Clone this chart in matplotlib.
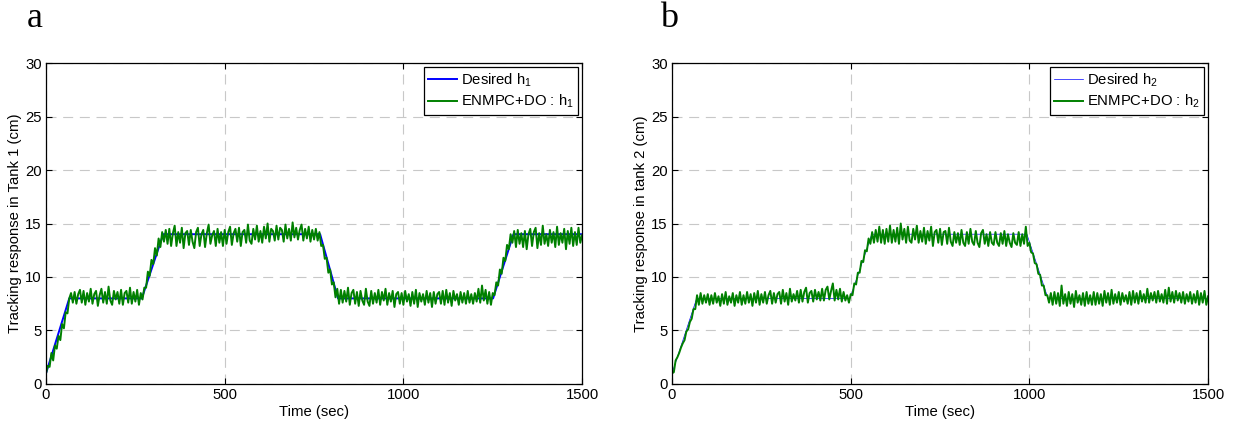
import numpy as np
import matplotlib
matplotlib.use("Agg")
import matplotlib.pyplot as plt

plt.rcParams['font.family'] = ['Liberation Sans', 'DejaVu Sans']
plt.rcParams['mathtext.fontset'] = 'custom'
plt.rcParams['mathtext.rm'] = 'Liberation Sans'
plt.rcParams['mathtext.it'] = 'Liberation Sans:italic'

# Time axis of the sampled responses (every 5 sec, 0..1500)
time = np.arange(0, 1505, 5)

# Desired set-point trajectories (breakpoints)
desired1_t = [0, 65, 268, 328, 767, 817, 1251, 1308, 1500]
desired1_h = [1, 8, 8, 14, 14, 8, 8, 14, 14]
desired2_t = [0, 69, 498, 559, 993, 1052, 1500]
desired2_h = [1, 8, 8, 14, 14, 8, 8]

# ENMPC+DO response in tank 1 (cm)
h1 = [
    1.0, 1.7, 1.6, 2.9, 2.2, 3.6, 3.3, 4.5, 4.1, 5.6, 5.2, 6.7, 6.6, 8.0, 8.5, 7.6, 8.6, 7.5, 8.4, 8.8,
    7.6, 8.7, 7.4, 8.5, 7.7, 8.9, 7.5, 8.4, 8.7, 7.3, 8.3, 8.9, 7.6, 8.6, 7.5, 9.1, 7.8, 7.4, 8.7, 7.9,
    8.6, 7.5, 8.8, 7.4, 8.5, 8.7, 7.6, 9.0, 7.5, 8.6, 7.7, 8.8, 7.4, 8.5, 7.9, 9.0, 9.0, 10.5, 10.1, 11.6,
    11.2, 12.7, 12.0, 13.6, 12.8, 14.2, 13.3, 14.4, 13.1, 14.5, 12.9, 14.1, 14.8, 12.9, 14.2, 13.2, 14.6, 12.7, 14.1, 14.3,
    13.0, 14.4, 13.3, 12.7, 14.2, 14.6, 12.9, 14.0, 14.4, 12.8, 14.1, 14.9, 13.1, 13.9, 14.3, 12.9, 14.5, 13.2, 14.2, 12.9,
    14.4, 13.1, 14.2, 14.7, 13.0, 14.1, 14.5, 13.3, 14.6, 12.9, 14.2, 14.4, 13.2, 14.9, 13.4, 13.1, 14.5, 13.5, 14.8, 13.3,
    14.3, 13.2, 14.7, 13.6, 15.0, 13.3, 14.5, 14.3, 13.4, 14.8, 13.5, 14.6, 14.4, 13.3, 14.9, 13.6, 14.5, 13.4, 15.1, 13.7,
    14.6, 13.5, 14.4, 14.9, 13.4, 14.5, 13.6, 14.7, 13.3, 14.4, 13.5, 14.5, 13.4, 14.2, 12.9, 13.0, 11.7, 11.8, 10.4, 10.7,
    9.3, 9.5, 8.1, 8.9, 7.5, 8.8, 7.6, 8.7, 7.7, 9.0, 7.4, 8.5, 8.8, 7.5, 8.6, 7.3, 8.7, 7.8, 7.4, 8.9,
    7.7, 7.3, 8.7, 7.5, 8.5, 7.6, 8.8, 7.4, 8.6, 7.8, 8.9, 7.4, 8.5, 7.7, 8.7, 7.2, 8.4, 8.6, 7.5, 8.5,
    7.4, 8.7, 7.7, 8.4, 7.3, 8.6, 7.5, 8.8, 7.2, 8.5, 7.7, 8.4, 7.4, 8.7, 7.6, 8.5, 7.2, 8.6, 7.5, 8.4,
    8.6, 7.5, 8.7, 7.4, 8.8, 7.6, 8.5, 7.3, 8.7, 7.8, 8.4, 7.4, 8.6, 7.6, 8.5, 7.5, 8.7, 7.6, 8.4, 7.5,
    8.5, 7.7, 8.9, 7.6, 9.2, 7.8, 8.8, 7.5, 8.6, 7.4, 8.5, 8.3, 9.5, 9.2, 10.7, 10.3, 11.8, 11.5, 13.0, 12.6,
    14.0, 13.2, 14.3, 12.8, 14.4, 13.1, 14.1, 12.8, 14.3, 12.6, 14.0, 14.5, 12.9, 14.2, 14.6, 12.7, 14.1, 13.0, 14.8, 13.1,
    14.0, 12.9, 14.4, 13.2, 14.2, 12.8, 14.7, 13.0, 14.1, 13.2, 14.5, 12.6, 14.3, 13.1, 14.6, 12.9, 14.2, 13.0, 14.6, 13.2,
    13.9,
]

# ENMPC+DO response in tank 2 (cm)
h2 = [
    1.0, 1.1, 2.2, 2.5, 2.9, 3.4, 3.8, 4.1, 4.9, 5.1, 5.8, 6.1, 7.0, 7.0, 8.3, 7.4, 8.5, 7.5, 8.3, 7.6,
    8.4, 7.4, 8.3, 7.5, 8.5, 7.6, 8.2, 7.3, 8.4, 7.5, 8.6, 7.4, 8.2, 7.6, 8.5, 7.3, 8.3, 7.6, 8.6, 7.4,
    8.3, 7.5, 8.6, 7.6, 8.4, 7.3, 8.5, 7.6, 8.7, 7.4, 8.4, 7.6, 8.6, 7.5, 8.3, 8.7, 7.5, 8.5, 7.6, 8.4,
    8.6, 7.5, 8.8, 7.7, 8.5, 7.4, 8.9, 7.7, 8.4, 7.8, 8.7, 7.6, 8.8, 7.7, 8.6, 9.0, 7.6, 8.5, 8.7, 7.7,
    8.8, 7.9, 8.6, 7.8, 8.9, 7.8, 8.8, 9.1, 7.9, 8.7, 9.4, 7.8, 8.8, 7.9, 8.9, 7.7, 8.6, 7.8, 8.3, 7.6,
    8.4, 8.3, 9.4, 9.3, 10.4, 10.4, 11.5, 11.4, 12.5, 12.4, 13.6, 13.1, 14.2, 13.2, 14.4, 13.3, 14.7, 13.2, 14.4, 13.1,
    14.5, 13.3, 14.8, 13.2, 14.4, 13.3, 14.6, 13.1, 15.0, 13.5, 14.5, 13.2, 14.7, 13.4, 13.2, 14.5, 13.5, 14.8, 13.2, 14.3,
    13.3, 14.6, 13.1, 14.3, 13.4, 14.7, 12.9, 14.2, 14.4, 13.2, 14.5, 13.0, 14.2, 14.3, 13.1, 14.6, 13.3, 12.9, 14.2, 13.2,
    14.1, 13.0, 14.4, 13.2, 12.9, 14.2, 13.1, 14.5, 13.3, 13.0, 14.3, 13.2, 12.8, 14.1, 14.4, 13.1, 14.0, 12.9, 14.2, 13.2,
    13.0, 14.2, 13.2, 12.9, 14.1, 13.1, 14.3, 12.9, 14.0, 13.2, 12.8, 14.1, 13.2, 13.0, 14.2, 12.9, 14.0, 13.1, 14.7, 12.9,
    13.2, 12.3, 12.2, 11.3, 11.2, 10.3, 10.2, 9.2, 9.2, 8.3, 8.3, 7.6, 8.5, 7.4, 8.6, 7.5, 8.5, 7.3, 9.2, 7.5,
    8.4, 7.3, 8.6, 7.5, 8.4, 7.2, 8.7, 7.6, 8.3, 7.4, 8.5, 7.3, 8.6, 7.5, 8.3, 7.4, 8.6, 7.4, 8.5, 7.5,
    8.4, 7.3, 8.7, 7.6, 8.5, 7.4, 8.8, 7.5, 8.4, 7.6, 8.6, 7.4, 8.5, 7.7, 8.3, 7.5, 8.6, 7.4, 8.7, 7.6,
    8.5, 7.5, 8.7, 7.7, 8.4, 7.6, 8.9, 7.6, 8.5, 7.8, 8.6, 7.6, 8.7, 7.7, 8.4, 7.6, 8.8, 7.5, 9.0, 7.7,
    8.6, 7.6, 8.7, 7.8, 8.5, 7.6, 8.6, 7.5, 8.4, 7.7, 8.6, 7.5, 8.4, 7.6, 8.7, 7.4, 8.5, 7.6, 8.7, 7.4,
    8.2,
]

fig = plt.figure(figsize=(12.34, 4.26), dpi=100)
ax1 = fig.add_axes([0.0373, 0.0986, 0.4344, 0.7535])
ax2 = fig.add_axes([0.5446, 0.0986, 0.4344, 0.7535])

panels = [
    (ax1, desired1_t, desired1_h, h1, 1.4, 'Desired h$_1$', 'ENMPC+DO : h$_1$',
     'Tracking response in Tank 1 (cm)', 'a', 27),
    (ax2, desired2_t, desired2_h, h2, 0.5, 'Desired h$_2$', 'ENMPC+DO : h$_2$',
     'Tracking response in tank 2 (cm)', 'b', 660),
]

fs = 10.7
for ax, dt, dh, resp, blue_lw, lab_d, lab_r, ylab, letter, lx in panels:
    ax.plot(dt, dh, color='#0000ff', lw=blue_lw, label=lab_d)
    ax.plot(time, resp, color='#008000', lw=1.4, label=lab_r)
    ax.set_xlim(0, 1500)
    ax.set_ylim(0, 30)
    ax.set_xticks([0, 500, 1000, 1500])
    ax.set_yticks(range(0, 31, 5))
    ax.grid(True, color='#c8c8c8', lw=0.8, dashes=(9, 6))
    ax.tick_params(direction='in', top=True, right=True, length=4, width=0.8,
                   labelsize=fs, pad=3)
    for s in ax.spines.values():
        s.set_linewidth(0.9)
    ax.set_xlabel('Time (sec)', fontsize=fs, labelpad=2)
    ax.set_ylabel(ylab, fontsize=fs, labelpad=2)
    leg = ax.legend(loc='upper right', fontsize=fs, fancybox=False, framealpha=1,
                    edgecolor='black', borderaxespad=0.25, handlelength=1.9,
                    handletextpad=0.3, borderpad=0.3, labelspacing=0.3)
    leg.get_frame().set_linewidth(0.9)
    fig.text(lx / 1234, 1 - 27 / 426, letter, fontsize=26, family='Liberation Serif',
             va='baseline', ha='left')

fig.savefig('out.png', dpi=100)
